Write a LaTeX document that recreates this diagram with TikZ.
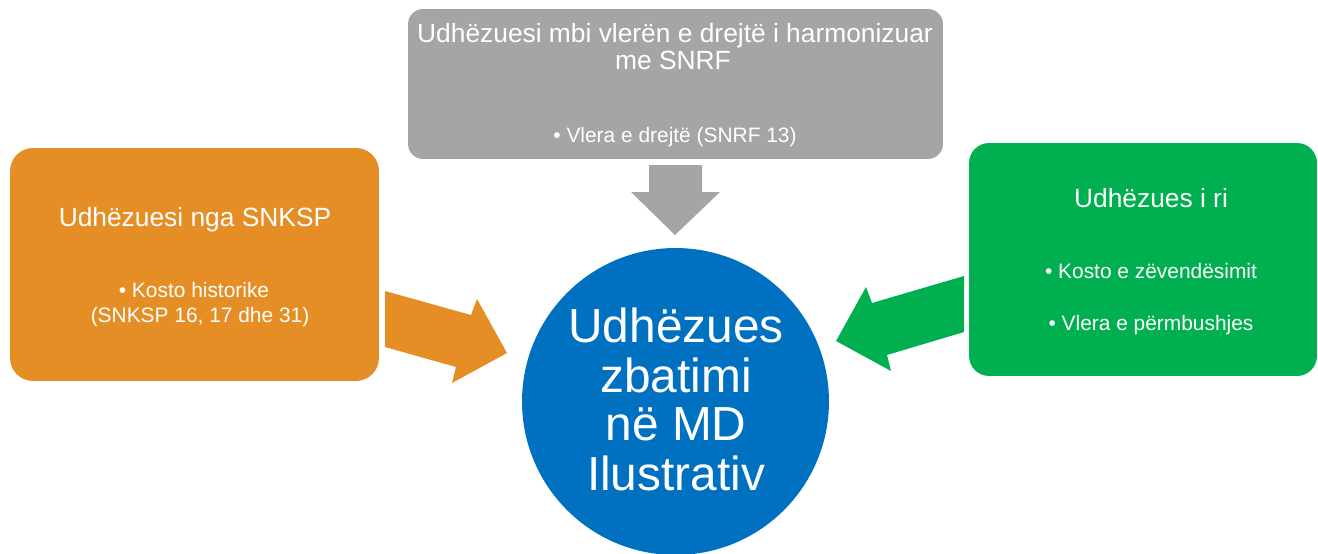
\documentclass[tikz,border=0pt]{standalone}
\usepackage{fontspec}
\setmainfont{Liberation Sans}
\usepackage{xcolor}
\definecolor{box gray}{HTML}{A5A5A5}
\definecolor{box orange}{HTML}{E58E26}
\definecolor{box green}{HTML}{00B050}
\definecolor{box blue}{HTML}{0070C0}
\tikzset{
	panel/.style={inner sep=0pt, draw=none},
	txt/.style={anchor=base, inner sep=0pt, text=white},
	big/.style={txt, font=\fontsize{15}{17}\selectfont},
	small/.style={txt, font=\fontsize{11.9}{13}\selectfont},
	huge/.style={txt, font=\fontsize{27.2}{30}\selectfont}
}

\begin{document}
\begin{tikzpicture}[x=0.02cm, y=-0.02cm]
			\useasboundingbox (0,0) rectangle (1318,554);
			% boxes
			\node[panel, fill=box gray, rounded corners=0.3cm, minimum width=10.7cm, minimum height=3.0cm] (fair) at (675.5, 84) {};
			\node[panel, fill=box orange, rounded corners=0.46cm, minimum width=7.38cm, minimum height=4.66cm] (hist) at (194.5, 264.5) {};
			\node[panel, fill=box green, rounded corners=0.4cm, minimum width=6.96cm, minimum height=4.66cm] (new) at (1143, 259.5) {};
			\node[panel, fill=box blue, circle, minimum size=6.14cm] (guide) at (675.5, 401.5) {};
			% block arrows
			\fill[box gray] (649,165) -- (702,165) -- (702,192) -- (720,192) -- (675,235) -- (631,192) -- (649,192) -- cycle;
			\fill[box orange] (385,291) -- (471,315) -- (477,299) -- (507,353) -- (452,383) -- (456,367) -- (385,347) -- cycle;
			\fill[box green] (964,276) -- (872,303) -- (866,287) -- (836,341) -- (891,371) -- (887,355) -- (964,332) -- cycle;
			% texts
			\node[big] (fairA) at (675, 43){Udhëzuesi mbi vlerën e drejtë i harmonizuar};
			\node[big] (fairB) at (673, 70){me SNRF};
			\node[small] (fairC) at (675, 142){• Vlera e drejtë (SNRF 13)};
			\node[big] (histA) at (195, 226){Udhëzuesi nga SNKSP};
			\node[small] (histB) at (194, 297){• Kosto historike};
			\node[small] (histC) at (200, 322){(SNKSP 16, 17 dhe 31)};
			\node[big] (newA) at (1151, 207){Udhëzues i ri};
			\node[small] (newB) at (1151, 278){• Kosto e zëvendësimit};
			\node[small] (newC) at (1151, 330){• Vlera e përmbushjes};
			\node[huge] (guideA) at (676, 342){Udhëzues};
			\node[huge] (guideB) at (676, 392){zbatimi};
			\node[huge] (guideC) at (676, 440){në MD};
			\node[huge] (guideD) at (676, 490){Ilustrativ};
		\end{tikzpicture}
\end{document}
